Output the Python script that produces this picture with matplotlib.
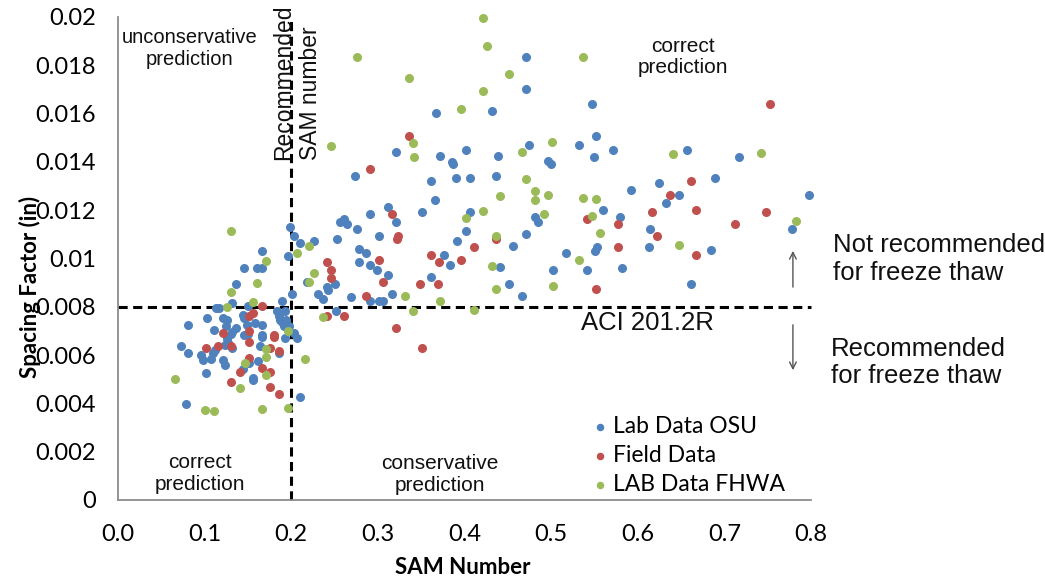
#!/usr/bin/env python3
import matplotlib
matplotlib.use("Agg")
import matplotlib.pyplot as plt

# SAM number vs spacing factor, three data sets
osu_sam = [0.1986, 0.2036, 0.2105, 0.2263, 0.2564, 0.2613, 0.2641, 0.2529, 0.1960, 0.1659,
           0.1458, 0.1609, 0.1666, 0.1359, 0.2179, 0.2506, 0.2410, 0.2421, 0.2309, 0.2364,
           0.2013, 0.1890, 0.2514, 0.1135, 0.1166, 0.1313, 0.1031, 0.0805, 0.1209, 0.1255,
           0.1247, 0.1447, 0.1458, 0.1501, 0.1585, 0.1666, 0.1490, 0.1363, 0.1316, 0.1301,
           0.1109, 0.1505, 0.1455, 0.1659, 0.1659, 0.1836, 0.1863, 0.1932, 0.1871, 0.1897,
           0.1937, 0.1913, 0.1978, 0.2036, 0.2067, 0.1932, 0.1255, 0.1274, 0.1236, 0.0731,
           0.0805, 0.0958, 0.0985, 0.1100, 0.1120, 0.1074, 0.1209, 0.1236, 0.1313, 0.1640,
           0.1613, 0.1863, 0.1513, 0.1013, 0.1447, 0.1555, 0.1555, 0.0782, 0.2105, 0.4711,
           0.4711, 0.3669, 0.4319, 0.3210, 0.3718, 0.4018, 0.3860, 0.3865, 0.4388, 0.4742,
           0.2737, 0.3614, 0.3900, 0.4065, 0.4365, 0.3664, 0.3510, 0.4061, 0.3114, 0.2910,
           0.3214, 0.2760, 0.3017, 0.4018, 0.3911, 0.4711, 0.4565, 0.2786, 0.2860, 0.2783,
           0.2910, 0.2987, 0.3114, 0.3768, 0.3837, 0.3614, 0.4415, 0.4515, 0.4665, 0.3161,
           0.2910, 0.3017, 0.3064, 0.2687, 0.5470, 0.5516, 0.5320, 0.5719, 0.5497, 0.4969,
           0.4997, 0.6574, 0.7171, 0.6894, 0.6247, 0.5924, 0.6475, 0.6324, 0.7976, 0.5597,
           0.5793, 0.4819, 0.4846, 0.6143, 0.7775, 0.5535, 0.6124, 0.6848, 0.5170, 0.5512,
           0.5020, 0.5419, 0.5820, 0.6617]
osu_sf = [0.01132, 0.01093, 0.01063, 0.01072, 0.01152, 0.01165, 0.01143, 0.01081, 0.01010, 0.01032,
          0.00962, 0.00962, 0.00962, 0.00893, 0.00903, 0.00893, 0.00883, 0.00870, 0.00853, 0.00834,
          0.00854, 0.00824, 0.00783, 0.00794, 0.00794, 0.00814, 0.00755, 0.00725, 0.00755, 0.00745,
          0.00722, 0.00766, 0.00752, 0.00803, 0.00732, 0.00725, 0.00723, 0.00713, 0.00697, 0.00687,
          0.00703, 0.00687, 0.00682, 0.00683, 0.00676, 0.00784, 0.00762, 0.00783, 0.00745, 0.00736,
          0.00745, 0.00722, 0.00720, 0.00690, 0.00672, 0.00670, 0.00665, 0.00651, 0.00642, 0.00639,
          0.00609, 0.00600, 0.00580, 0.00610, 0.00621, 0.00584, 0.00580, 0.00559, 0.00628, 0.00639,
          0.00576, 0.00607, 0.00569, 0.00527, 0.00541, 0.00506, 0.00497, 0.00399, 0.00428, 0.01836,
          0.01702, 0.01601, 0.01612, 0.01441, 0.01423, 0.01451, 0.01401, 0.01390, 0.01423, 0.01469,
          0.01343, 0.01322, 0.01332, 0.01332, 0.01343, 0.01242, 0.01193, 0.01193, 0.01213, 0.01183,
          0.01152, 0.01123, 0.01094, 0.01114, 0.01074, 0.01100, 0.01052, 0.01038, 0.01022, 0.00984,
          0.00972, 0.00952, 0.00933, 0.01014, 0.00974, 0.00923, 0.00964, 0.00893, 0.00843, 0.00853,
          0.00824, 0.00824, 0.00824, 0.00842, 0.01641, 0.01508, 0.01470, 0.01449, 0.01422, 0.01404,
          0.01390, 0.01449, 0.01422, 0.01332, 0.01313, 0.01282, 0.01262, 0.01231, 0.01262, 0.01201,
          0.01172, 0.01173, 0.01152, 0.01122, 0.01122, 0.01046, 0.01046, 0.01035, 0.01023, 0.01032,
          0.00952, 0.00952, 0.00962, 0.00893]

field_sam = [0.2410, 0.2460, 0.2460, 0.2413, 0.1659, 0.1509, 0.1562, 0.1209, 0.1509, 0.1805,
             0.1805, 0.1509, 0.1305, 0.1158, 0.1013, 0.1755, 0.1863, 0.1509, 0.1659, 0.1409,
             0.1759, 0.1305, 0.1755, 0.1859, 0.3364, 0.2910, 0.3161, 0.3218, 0.3237, 0.4365,
             0.4114, 0.3614, 0.3710, 0.3961, 0.3487, 0.3692, 0.3014, 0.3064, 0.2860, 0.2610,
             0.3210, 0.3510, 0.7521, 0.6617, 0.6374, 0.6674, 0.6170, 0.7475, 0.5419, 0.5770,
             0.7125, 0.6221, 0.5770, 0.6674, 0.5516]
field_sf = [0.00984, 0.00952, 0.00920, 0.00763, 0.00803, 0.00762, 0.00773, 0.00692, 0.00701, 0.00684,
            0.00675, 0.00655, 0.00639, 0.00639, 0.00628, 0.00628, 0.00618, 0.00587, 0.00548, 0.00529,
            0.00529, 0.00489, 0.00469, 0.00439, 0.01508, 0.01372, 0.01183, 0.01082, 0.01094, 0.01082,
            0.01046, 0.01013, 0.00984, 0.00994, 0.00893, 0.00893, 0.00993, 0.00904, 0.00843, 0.00763,
            0.00713, 0.00629, 0.01641, 0.01322, 0.01262, 0.01201, 0.01193, 0.01193, 0.01164, 0.01143,
            0.01143, 0.01093, 0.01046, 0.01013, 0.00872]

fhwa_sam = [0.1308, 0.2064, 0.2209, 0.1709, 0.2260, 0.2206, 0.1609, 0.1308, 0.1559, 0.1255,
            0.2364, 0.1960, 0.1712, 0.1712, 0.1463, 0.1712, 0.2163, 0.0658, 0.1409, 0.1005,
            0.1109, 0.1663, 0.1960, 0.4215, 0.4261, 0.2756, 0.4515, 0.3364, 0.4215, 0.3961,
            0.2460, 0.3406, 0.3415, 0.4665, 0.4711, 0.4415, 0.4215, 0.4018, 0.4365, 0.4315,
            0.4365, 0.3311, 0.3715, 0.3406, 0.4114, 0.5370, 0.5015, 0.6412, 0.7425, 0.4819,
            0.4819, 0.4969, 0.5370, 0.5520, 0.4919, 0.5470, 0.5566, 0.7821, 0.6475, 0.5320,
            0.5020]
fhwa_sf = [0.01114, 0.01024, 0.01052, 0.00991, 0.00941, 0.00901, 0.00900, 0.00863, 0.00819, 0.00800,
           0.00759, 0.00700, 0.00625, 0.00591, 0.00567, 0.00518, 0.00583, 0.00501, 0.00463, 0.00373,
           0.00369, 0.00376, 0.00382, 0.01997, 0.01881, 0.01833, 0.01765, 0.01746, 0.01694, 0.01620,
           0.01466, 0.01480, 0.01419, 0.01441, 0.01328, 0.01260, 0.01195, 0.01169, 0.01094, 0.00969,
           0.00874, 0.00846, 0.00824, 0.00784, 0.00787, 0.01836, 0.01481, 0.01433, 0.01436, 0.01281,
           0.01241, 0.01262, 0.01251, 0.01246, 0.01184, 0.01175, 0.01106, 0.01157, 0.01056, 0.00993,
           0.00885]

series_names = ["Lab Data OSU", "Field Data", "LAB Data FHWA"]
x_ticks = [0.0, 0.1, 0.2, 0.3, 0.4, 0.5, 0.6, 0.7, 0.8]
y_ticks = [0, 0.002, 0.004, 0.006, 0.008, 0.01, 0.012, 0.014, 0.016, 0.018, 0.02]
y_labels = ["0", "0.002", "0.004", "0.006", "0.008", "0.01", "0.012", "0.014", "0.016", "0.018", "0.02"]
sam_limit = 0.2
aci_limit = 0.008

fig = plt.figure(figsize=(10.45, 5.82), dpi=100)
ax = fig.add_axes([0.1129, 0.1409, 0.6632, 0.8299])

ax.scatter(osu_sam, osu_sf, s=30, color="#4F81BD", label=series_names[0], zorder=3, clip_on=False)
ax.scatter(field_sam, field_sf, s=30, color="#C0504D", label=series_names[1], zorder=3, clip_on=False)
ax.scatter(fhwa_sam, fhwa_sf, s=30, color="#9BBB59", label=series_names[2], zorder=3, clip_on=False)

ax.set_xlim(0, 0.8)
ax.set_ylim(0, 0.02)
ax.set_xticks(x_ticks)
ax.set_xticklabels(["%.1f" % v for v in x_ticks])
ax.set_yticks(y_ticks)
ax.set_yticklabels(y_labels)
ax.tick_params(axis="both", length=0, labelsize=17, colors="#000000")
ax.tick_params(axis="y", pad=16)
ax.tick_params(axis="x", pad=17)
for lab in ax.get_xticklabels() + ax.get_yticklabels():
    lab.set_fontfamily("Lato")

ax.spines["right"].set_visible(False)
ax.spines["top"].set_visible(False)
ax.spines["left"].set_color("#8c8c8c")
ax.spines["bottom"].set_color("#8c8c8c")
ax.spines["left"].set_linewidth(1.3)
ax.spines["bottom"].set_linewidth(1.3)

ax.set_ylabel("Spacing Factor (in)", fontfamily="Lato", fontweight="bold", fontsize=16)
ax.set_xlabel("SAM Number", fontfamily="Lato", fontweight="bold", fontsize=16)
ax.yaxis.set_label_coords(-0.127, 0.441)
ax.xaxis.set_label_coords(0.498, -0.139)
ax.xaxis.label.set_va("center")
ax.yaxis.label.set_va("center")

# threshold lines
ax.plot([0, 0.8], [aci_limit, aci_limit], color="black", lw=2.2, dashes=(3.0, 1.8), zorder=2, clip_on=False)
ax.plot([sam_limit, sam_limit], [0, 0.02], color="black", lw=2.2, dashes=(3.0, 1.8), zorder=2, clip_on=False)

ann = dict(fontfamily="Liberation Sans", color="#111111")
ax.text(0.0831, 0.0187, "unconservative\nprediction", ha="center", va="center", fontsize=14.5, linespacing=1.15, **ann)
ax.text(0.6524, 0.01834, "correct\nprediction", ha="center", va="center", fontsize=15, linespacing=1.15, **ann)
ax.text(0.0947, 0.0011, "correct\nprediction", ha="center", va="center", fontsize=15, linespacing=1.15, **ann)
ax.text(0.3718, 0.00106, "conservative\nprediction", ha="center", va="center", fontsize=15, linespacing=1.15, **ann)
ax.text(0.2065, 0.01408, "Recommended\nSAM number", ha="center", va="bottom", rotation=90,
        fontsize=16.5, linespacing=1.2, multialignment="left", **ann)
ax.text(0.6114, 0.00733, "ACI 201.2R", ha="center", va="center", fontsize=18.5, **ann)
ax.text(0.8253, 0.00998, "Not recommended\nfor freeze thaw", ha="left", va="center", fontsize=18.5, linespacing=1.2, **ann)
ax.text(0.8233, 0.00569, "Recommended\nfor freeze thaw", ha="left", va="center", fontsize=18.5, linespacing=1.2, **ann)

arrow = dict(arrowstyle="->", color="#555555", lw=1.0, mutation_scale=12)
ax.annotate("", xy=(0.7791, 0.01043), xytext=(0.7791, 0.0087), arrowprops=arrow, annotation_clip=False)
ax.annotate("", xy=(0.7791, 0.00526), xytext=(0.7791, 0.00737), arrowprops=arrow, annotation_clip=False)

ax.legend(loc="upper left", bbox_to_anchor=(0.662, 0.198), frameon=False, borderpad=0,
          handletextpad=0.1, labelspacing=0.35, markerscale=0.8, handlelength=1.0,
          prop={"family": "Lato", "size": 16.5})

fig.savefig("out.png", dpi=100)
